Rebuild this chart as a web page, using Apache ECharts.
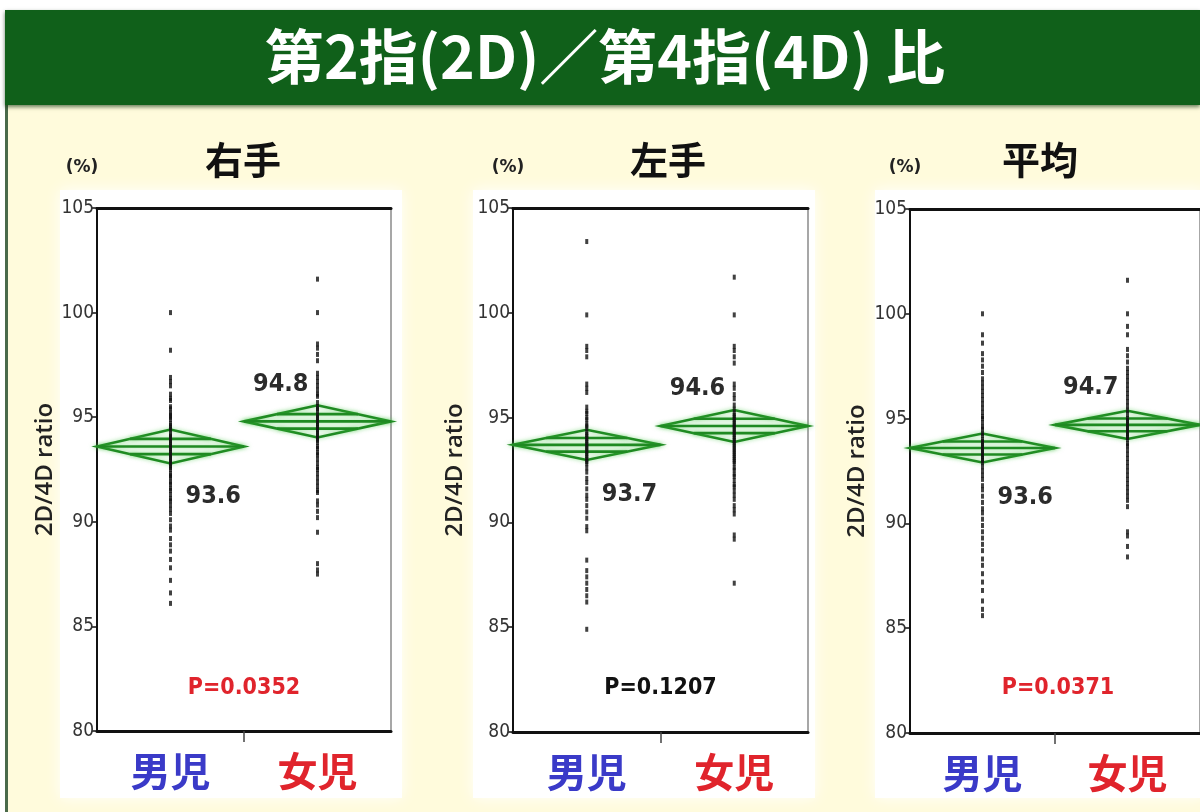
<!DOCTYPE html>
<html>
<head>
<meta charset="utf-8">
<script src="https://cdn.jsdelivr.net/npm/echarts@6/dist/echarts.min.js"></script>
<style>
html, body { margin: 0; padding: 0; background: #fffbdc; }
#chart { width: 1200px; height: 812px; }
</style>
</head>
<body>
<div id="chart"></div>
<script>
// ---- data ----
const mainTitle = '第2指(2D)／第4指(4D) 比';
const groups = ['男児', '女児'];
const panelTitles = ['右手', '左手', '平均'];
const pValues = ['P=0.0352', 'P=0.1207', 'P=0.0371'];
const pSignificant = [true, false, true];
const yTicks = [80, 85, 90, 95, 100, 105];
const yUnit = '(%)';
const yName = '2D/4D ratio';

// individual 2D/4D ratios (%)
const rightBoys = [100.0, 98.2, 96.9, 96.7, 96.5, 96.1, 95.9, 95.8, 95.5, 95.4, 95.2, 95.1, 95.0, 94.9, 94.7, 94.6, 94.5, 94.4, 94.2, 94.1, 94.0, 93.9, 93.8, 93.7, 93.6, 93.5, 93.4, 93.3, 93.2, 93.1, 93.0, 92.9, 92.8, 92.7, 92.6, 92.5, 92.3, 92.2, 92.1, 91.9, 91.8, 91.6, 91.5, 91.3, 91.1, 91.0, 90.8, 90.6, 90.4, 90.1, 89.8, 89.6, 89.2, 88.9, 88.6, 88.2, 87.8, 87.2, 86.6, 86.1];
const rightGirls = [101.6, 100.0, 98.5, 98.3, 98.0, 97.7, 97.1, 96.9, 96.7, 96.5, 96.3, 96.1, 96.0, 95.7, 95.5, 95.4, 95.3, 95.1, 95.0, 94.9, 94.8, 94.7, 94.6, 94.5, 94.4, 94.3, 94.2, 94.1, 94.0, 93.9, 93.8, 93.6, 93.5, 93.3, 93.2, 93.0, 92.8, 92.6, 92.5, 92.3, 92.1, 91.9, 91.7, 91.5, 91.4, 91.0, 90.8, 90.5, 90.2, 89.5, 88.0, 87.7, 87.5];
const leftBoys = [103.4, 99.9, 98.4, 98.2, 97.9, 96.6, 96.4, 96.2, 95.5, 95.3, 95.2, 95.0, 94.9, 94.7, 94.6, 94.5, 94.3, 94.2, 94.1, 94.0, 93.9, 93.8, 93.7, 93.6, 93.5, 93.4, 93.3, 93.2, 93.1, 93.0, 92.9, 92.8, 92.6, 92.4, 92.1, 91.9, 91.6, 91.3, 91.1, 90.8, 90.5, 90.2, 89.8, 89.6, 88.2, 87.7, 87.4, 87.1, 86.8, 86.5, 86.2, 84.9];
const leftGirls = [101.7, 99.9, 98.4, 98.2, 97.9, 97.6, 96.6, 96.4, 96.1, 95.9, 95.6, 95.4, 95.2, 95.1, 95.0, 94.9, 94.8, 94.7, 94.6, 94.5, 94.4, 94.3, 94.2, 94.1, 94.0, 93.9, 93.8, 93.7, 93.6, 93.5, 93.4, 93.3, 93.2, 93.1, 93.0, 92.9, 92.8, 92.6, 92.5, 92.3, 92.2, 92.0, 91.8, 91.7, 91.5, 91.3, 91.1, 90.8, 90.6, 90.4, 89.4, 89.2, 87.1];
const meanBoys = [100.0, 99.0, 98.6, 98.1, 97.8, 97.5, 97.2, 96.9, 96.7, 96.5, 96.3, 96.1, 95.9, 95.7, 95.5, 95.3, 95.1, 95.0, 94.8, 94.6, 94.5, 94.3, 94.2, 94.0, 93.9, 93.8, 93.7, 93.6, 93.5, 93.4, 93.3, 93.2, 93.1, 93.0, 92.9, 92.7, 92.5, 92.3, 92.1, 91.8, 91.6, 91.3, 91.0, 90.7, 90.5, 90.2, 89.9, 89.6, 89.3, 89.0, 88.7, 88.3, 88.0, 87.6, 87.2, 86.8, 86.3, 85.9, 85.6];
const meanGirls = [101.6, 100.0, 99.4, 99.0, 98.3, 98.0, 97.7, 97.4, 97.2, 97.0, 96.8, 96.6, 96.4, 96.2, 96.0, 95.8, 95.6, 95.4, 95.2, 95.0, 94.9, 94.8, 94.7, 94.6, 94.5, 94.4, 94.3, 94.2, 94.1, 94.0, 93.8, 93.7, 93.5, 93.3, 93.1, 92.9, 92.7, 92.5, 92.3, 92.1, 91.9, 91.7, 91.5, 91.3, 91.1, 90.8, 89.6, 89.4, 88.9, 88.4];

// group means and half-height of the means diamonds (95% CI)
const rightMeans = [93.6, 94.8];
const rightCI = [0.81, 0.77];
const leftMeans = [93.7, 94.6];
const leftCI = [0.72, 0.76];
const avgMeans = [93.6, 94.7];
const avgCI = [0.69, 0.67];

const panelPoints = [[rightBoys, rightGirls], [leftBoys, leftGirls], [meanBoys, meanGirls]];
const panelMeans = [rightMeans, leftMeans, avgMeans];
const panelCI = [rightCI, leftCI, avgCI];

// ---- layout ----
const layout = [
  { grid: { left: 97, top: 208, width: 294, height: 523 }, card: [60, 190, 342, 608], titleX: 243, unitX: 82, nameGap: 40 },
  { grid: { left: 513, top: 208, width: 295, height: 524 }, card: [473, 190, 342, 608], titleX: 668, unitX: 508, nameGap: 46 },
  { grid: { left: 910, top: 209, width: 296, height: 524 }, card: [875, 190, 330, 608], titleX: 1040, unitX: 905, nameGap: 41 }
];

const GREEN = '#1f8a22';
const BLUE = '#3a3ac8';
const RED = '#e0242c';
const CAT_COLORS = [BLUE, RED];

function renderDiamond(params, api) {
  const k = api.value(0), m = api.value(1), h = api.value(2);
  const L = api.coord([k, m]);
  const R = api.coord([k + 1, m]);
  const T = api.coord([k + 0.5, m + h]);
  const B = api.coord([k + 0.5, m - h]);
  const q = 0.45;
  const u1 = api.coord([k + 0.5 * q, m + h * q]);
  const u2 = api.coord([k + 1 - 0.5 * q, m + h * q]);
  const d1 = api.coord([k + 0.5 * q, m - h * q]);
  const d2 = api.coord([k + 1 - 0.5 * q, m - h * q]);
  const lineStyle = {
    stroke: GREEN, lineWidth: 2.6, fill: null,
    shadowBlur: 4, shadowColor: 'rgba(70,200,70,0.6)'
  };
  const C = api.coord([k + 0.5, m]);
  const isBoy = k === 0;
  return {
    type: 'group',
    children: [
      { type: 'polygon', shape: { points: [L, T, R, B] }, style: lineStyle },
      { type: 'line', shape: { x1: L[0], y1: L[1], x2: R[0], y2: R[1] }, style: lineStyle },
      { type: 'line', shape: { x1: u1[0], y1: u1[1], x2: u2[0], y2: u2[1] }, style: lineStyle },
      { type: 'line', shape: { x1: d1[0], y1: d1[1], x2: d2[0], y2: d2[1] }, style: lineStyle },
      {
        type: 'text',
        x: isBoy ? C[0] + 15 : C[0] - 9,
        y: isBoy ? C[1] + 50 : C[1] - 37,
        z2: 20,
        style: {
          text: m.toFixed(1),
          fill: '#2b2b2b',
          font: 'bold 25px "DejaVu Sans Condensed", "DejaVu Sans", sans-serif',
          align: isBoy ? 'left' : 'right',
          verticalAlign: 'middle'
        }
      }
    ]
  };
}

const grids = [], xAxes = [], yAxes = [], series = [], graphics = [];

// page decoration: banner, cards
graphics.push({ type: 'rect', z: -20, shape: { x: 0, y: 0, width: 1200, height: 10 }, style: { fill: '#ffffff' } });
graphics.push({ type: 'rect', z: -20, shape: { x: 0, y: 10, width: 5, height: 802 }, style: { fill: '#ffffff' } });
graphics.push({ type: 'rect', z: -19, shape: { x: 5, y: 10, width: 3, height: 802 }, style: { fill: '#4a6a4a' } });
graphics.push({ type: 'rect', z: -18, shape: { x: 5, y: 10, width: 1195, height: 95 }, style: { fill: '#10601a', shadowBlur: 4, shadowColor: 'rgba(0,40,0,0.6)', shadowOffsetY: 2 } });
graphics.push({
  type: 'text', z: 10, x: 605, y: 57,
  style: { text: mainTitle, fill: '#ffffff', font: 'bold 59px "Noto Sans CJK JP", sans-serif', align: 'center', verticalAlign: 'middle' }
});

layout.forEach((lay, i) => {
  const g = lay.grid;
  const c = lay.card;
  graphics.push({ type: 'rect', z: -15, shape: { x: c[0], y: c[1], width: c[2], height: c[3] }, style: { fill: '#ffffff', shadowBlur: 14, shadowColor: 'rgba(255,255,255,0.95)' } });
  graphics.push({
    type: 'text', z: 10, x: lay.titleX, y: 160,
    style: { text: panelTitles[i], fill: '#111', font: 'bold 38px "Noto Sans CJK JP", sans-serif', align: 'center', verticalAlign: 'middle' }
  });
  graphics.push({
    type: 'text', z: 10, x: lay.unitX, y: 168,
    style: { text: yUnit, fill: '#222', font: 'bold 17px "DejaVu Sans", sans-serif', align: 'center', verticalAlign: 'middle' }
  });
  graphics.push({
    type: 'text', z: 10, x: g.left + g.width / 2, y: 688,
    style: { text: pValues[i], fill: pSignificant[i] ? RED : '#111', font: 'bold 23px "DejaVu Sans Condensed", "DejaVu Sans", sans-serif', align: 'center', verticalAlign: 'middle' }
  });

  grids.push(Object.assign({ show: true, borderColor: '#8a8a8a', borderWidth: 1.5, backgroundColor: 'transparent' }, g));

  xAxes.push({
    gridIndex: i, type: 'value', min: 0, max: groups.length, position: 'bottom',
    axisLine: { show: true, onZero: false, lineStyle: { color: '#111', width: 3 } },
    axisTick: { show: true, customValues: [1], length: 11, lineStyle: { color: '#444', width: 1.5 } },
    axisLabel: {
      customValues: groups.map((_, k) => k + 0.5),
      formatter: v => (v < 1 ? '{a|' + groups[0] + '}' : '{b|' + groups[1] + '}'),
      margin: 20,
      rich: {
        a: { color: CAT_COLORS[0], fontSize: 40, fontWeight: 'bold', fontFamily: '"Noto Sans CJK JP", sans-serif' },
        b: { color: CAT_COLORS[1], fontSize: 40, fontWeight: 'bold', fontFamily: '"Noto Sans CJK JP", sans-serif' }
      }
    },
    splitLine: { show: false }
  });
  xAxes.push({
    gridIndex: i, type: 'value', min: 0, max: groups.length, position: 'top',
    axisLine: { show: true, onZero: false, lineStyle: { color: '#111', width: 3 } },
    axisTick: { show: false }, axisLabel: { show: false }, splitLine: { show: false }
  });

  yAxes.push({
    gridIndex: i, type: 'value',
    min: yTicks[0], max: yTicks[yTicks.length - 1], interval: yTicks[1] - yTicks[0],
    axisLine: { show: true, onZero: false, lineStyle: { color: '#111', width: 2 } },
    axisTick: { show: true, length: 5, lineStyle: { color: '#111', width: 1.5 } },
    axisLabel: { color: '#333', fontSize: 19, margin: 3, fontFamily: '"Liberation Sans Narrow", "DejaVu Sans Condensed", "Roboto Condensed", sans-serif' },
    splitLine: { show: false },
    name: yName, nameLocation: 'middle', nameRotate: 90, nameGap: lay.nameGap,
    nameTextStyle: { color: '#222', fontSize: 24, fontWeight: 600, fontFamily: '"Open Sans", sans-serif' }
  });

  const pts = panelPoints[i];
  pts.forEach((vals, k) => {
    series.push({
      type: 'scatter', xAxisIndex: i * 2, yAxisIndex: i, z: 5,
      symbol: 'rect', symbolSize: [3, 5],
      itemStyle: { color: '#111' },
      silent: true,
      data: vals.map(v => [k + 0.5, v])
    });
  });

  series.push({
    type: 'custom', xAxisIndex: i * 2, yAxisIndex: i, z: 3,
    renderItem: renderDiamond,
    silent: true,
    data: panelMeans[i].map((m, k) => [k, m, panelCI[i][k]])
  });
});

const chart = echarts.init(document.getElementById('chart'), null, { renderer: 'canvas' });
chart.setOption({
  backgroundColor: '#fffbdc',
  animation: false,
  grid: grids,
  xAxis: xAxes,
  yAxis: yAxes,
  series: series,
  graphic: graphics
});
</script>
</body>
</html>
